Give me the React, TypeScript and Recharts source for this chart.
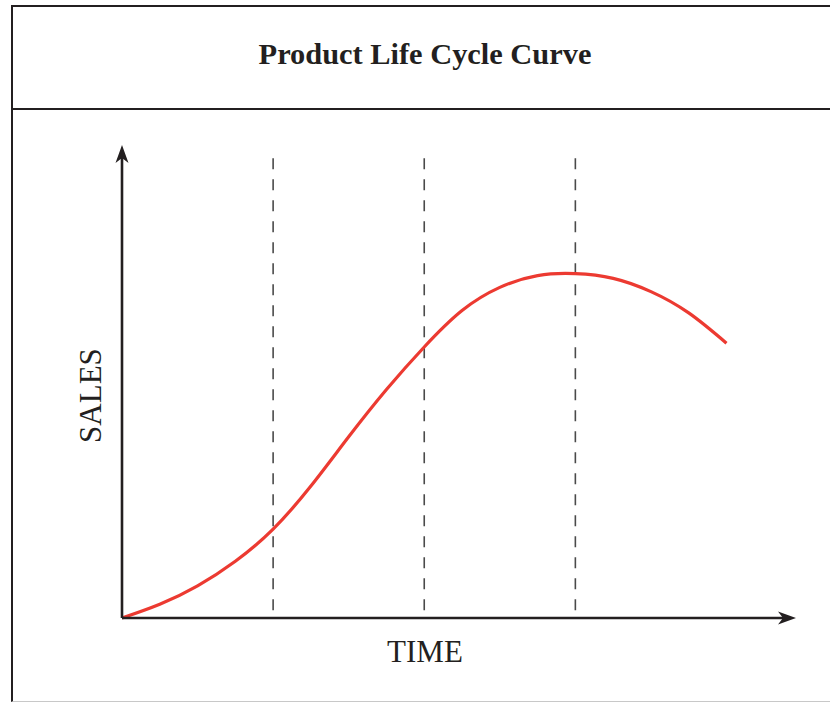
import { LineChart, Line, XAxis, YAxis, ReferenceLine } from 'recharts';

const timeValues = [0, 0.25, 0.5, 0.75, 1, 1.25, 1.5, 1.75, 2, 2.25, 2.5, 2.75, 3, 3.25, 3.5, 3.75, 4];
const salesValues = [0, 2.9, 6.8, 12.0, 18.8, 27.9, 38.3, 48.3, 57.3, 65.0, 69.9, 72.4, 72.8, 71.8, 69.0, 64.5, 58.1];
const stageBoundaries = [1, 2, 3];

const TIME_MAX = 4.46;
const SALES_MAX = 100;
const DASH_TOP = 97.2;

const data = timeValues.map((t, i) => ({ time: t, sales: salesValues[i] }));

const INK = '#231f20';
const SERIF = '"Liberation Serif", "Times New Roman", serif';

// axis line with a concave arrowhead at its far end
function ArrowAxis(props: any) {
  const { x1, y1, x2, y2 } = props;
  const len = Math.hypot(x2 - x1, y2 - y1) || 1;
  const ux = (x2 - x1) / len;
  const uy = (y2 - y1) / len;
  const px = -uy;
  const py = ux;
  const head = 18;
  const half = 6.5;
  const notch = 13;
  const pts = [
    [x2, y2],
    [x2 - ux * head + px * half, y2 - uy * head + py * half],
    [x2 - ux * notch, y2 - uy * notch],
    [x2 - ux * head - px * half, y2 - uy * head - py * half],
  ]
    .map(p => p.join(','))
    .join(' ');
  return (
    <g>
      <line x1={x1} y1={y1} x2={x2 - ux * notch} y2={y2 - uy * notch} stroke={INK} strokeWidth={2.6} />
      <polygon points={pts} fill={INK} />
    </g>
  );
}

export default function App() {
  return (
    <div style={{ position: 'absolute', left: 0, top: 0, width: 830, height: 702, overflow: 'hidden', background: '#fff' }}>
      <div
        style={{
          position: 'absolute', left: 11, top: 5, width: 840, height: 697, boxSizing: 'border-box',
          borderTop: `2px solid ${INK}`, borderLeft: `2px solid ${INK}`, borderBottom: '1px solid #c8c8c8',
        }}
      />
      <div style={{ position: 'absolute', left: 11, top: 108, width: 840, height: 2, background: INK }} />
      <div
        style={{
          position: 'absolute', left: 0, top: 39, width: 850, textAlign: 'center',
          fontFamily: SERIF, fontWeight: 'bold', fontSize: 30.4, lineHeight: '30px', color: INK,
        }}
      >
        Product Life Cycle Curve
      </div>

      <div style={{ position: 'absolute', left: 0, top: 0 }}>
        <LineChart width={830} height={702} data={data} margin={{ top: 145, right: 34, bottom: 84, left: 122 }}>
          <XAxis type="number" dataKey="time" domain={[0, TIME_MAX]} hide />
          <YAxis type="number" domain={[0, SALES_MAX]} hide />
          {stageBoundaries.map(b => (
            <ReferenceLine
              key={b}
              segment={[{ x: b, y: DASH_TOP }, { x: b, y: 0 }]}
              stroke="#4a4a4a"
              strokeWidth={1.6}
              strokeDasharray="11 10"
            />
          ))}
          <Line
            type="natural"
            dataKey="sales"
            stroke="#ec3a31"
            strokeWidth={3.2}
            dot={false}
            activeDot={false}
            isAnimationActive={false}
          />
          <ReferenceLine segment={[{ x: 0, y: 0 }, { x: TIME_MAX, y: 0 }]} shape={ArrowAxis} ifOverflow="visible" />
          <ReferenceLine segment={[{ x: 0, y: 0 }, { x: 0, y: SALES_MAX }]} shape={ArrowAxis} ifOverflow="visible" />
        </LineChart>
      </div>

      <div
        style={{
          position: 'absolute', left: 325, top: 636, width: 200, textAlign: 'center',
          fontFamily: SERIF, fontSize: 31, lineHeight: '31px', color: INK,
        }}
      >
        TIME
      </div>
      <div
        style={{
          position: 'absolute', left: 90 - 100, top: 395 - 15.5, width: 200, height: 31, textAlign: 'center',
          fontFamily: SERIF, fontSize: 31, lineHeight: '31px', color: INK, transform: 'rotate(-90deg)',
        }}
      >
        SALES
      </div>
    </div>
  );
}
